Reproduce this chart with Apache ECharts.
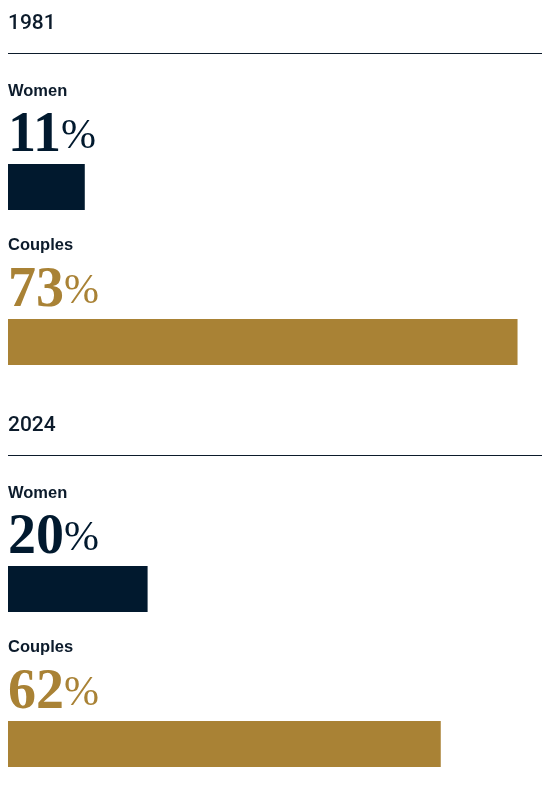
<!DOCTYPE html>
<html><head><meta charset="utf-8">
<script src="https://cdn.jsdelivr.net/npm/echarts@6/dist/echarts.min.js"></script>
<style>html,body{margin:0;padding:0;background:#fff}#c{width:550px;height:786px}</style>
</head><body><div id="c"></div>
<script>
const years = ['1981', '2024'];
const groups = ['Women', 'Couples'];
const values1981 = [11, 73];
const values2024 = [20, 62];
const valuesByYear = [values1981, values2024];

const NAVY = '#01192e', GOLD = '#a98235', INK = '#0c1b2b';
const barColors = [NAVY, GOLD];
const SECTION = 402;
const groupBarTop = [164, 319];
const groupLabelMid = [91, 245];
// plot spans x=8..542; 100% would be ~698px wide, so the visible axis ends at ~76.5%
const AXIS_MAX = 534 / 6.98;

const grids = [], xAxes = [], yAxes = [], series = [], graphics = [];
years.forEach((yr, i) => {
  const y0 = i * SECTION;
  graphics.push({type: 'text', x: 8, y: y0 + 23.5,
    style: {text: yr, fill: INK, font: '500 21px Roboto', verticalAlign: 'middle', align: 'left'}});
  graphics.push({type: 'line', shape: {x1: 8, y1: y0 + 53.5, x2: 542, y2: y0 + 53.5},
    style: {stroke: INK, lineWidth: 1}});
  groups.forEach((g, j) => {
    const idx = grids.length;
    graphics.push({type: 'text', x: 8, y: y0 + groupLabelMid[j],
      style: {text: g, fill: INK, font: 'bold 16.5px "Liberation Sans"', verticalAlign: 'middle', align: 'left'}});
    grids.push({left: 8, top: y0 + groupBarTop[j], width: 534, height: 46, containLabel: false});
    xAxes.push({type: 'value', gridIndex: idx, min: 0, max: AXIS_MAX, show: false});
    yAxes.push({type: 'category', gridIndex: idx, data: [g], show: false});
    series.push({
      type: 'bar', xAxisIndex: idx, yAxisIndex: idx, data: [valuesByYear[i][j]],
      barWidth: 46, itemStyle: {color: barColors[j]}, silent: true,
      label: {
        show: true, position: [0, -27], align: 'left', verticalAlign: 'middle',
        formatter: p => `{n|${p.value}}{p|%}`,
        rich: {
          n: {fontFamily: 'Liberation Serif', fontWeight: 'bold', fontSize: 56, color: barColors[j]},
          p: {fontFamily: 'Liberation Serif', fontWeight: 'normal', fontSize: 42, color: barColors[j]}
        }
      }
    });
  });
});

const chart = echarts.init(document.getElementById('c'), null, {renderer: 'canvas'});
chart.setOption({
  animation: false,
  grid: grids, xAxis: xAxes, yAxis: yAxes, series: series,
  graphic: {elements: graphics}
});
</script></body></html>
